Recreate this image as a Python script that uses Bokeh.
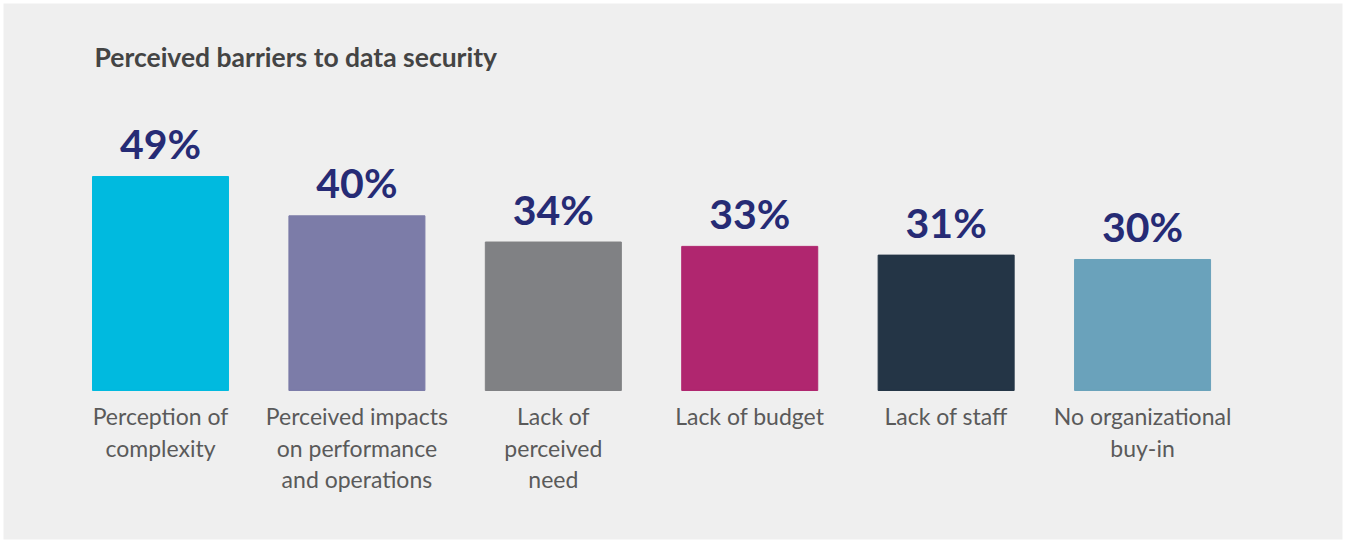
from bokeh.plotting import figure
from bokeh.models import ColumnDataSource, Range1d, Label
from bokeh.core.properties import value
from bokeh.embed import file_html
from bokeh.resources import INLINE

title = "Perceived barriers to data security"
categories = [
    "Perception of\ncomplexity",
    "Perceived impacts\non performance\nand operations",
    "Lack of\nperceived\nneed",
    "Lack of budget",
    "Lack of staff",
    "No organizational\nbuy-in",
]
values = [49, 40, 34, 33, 31, 30]
colors = ["#00badf", "#7c7ca8", "#808184", "#b0266f", "#243546", "#6aa2bb"]

xs = list(range(len(categories)))
src = ColumnDataSource(dict(
    x=xs, top=values, color=colors, cat=categories,
    lbl=[f"{v}%" for v in values],
))

p = figure(width=1345, height=542, output_backend="svg", toolbar_location=None,
           x_range=Range1d(-0.7994, 6.018), y_range=Range1d(-34.12, 88.62),
           min_border_left=3, min_border_right=3, min_border_top=3, min_border_bottom=3,
           background_fill_color="#efefef", border_fill_color="white")
p.axis.visible = False
p.grid.visible = False
p.outline_line_color = None

p.vbar(x="x", top="top", bottom=0, width=0.6925, color="color", source=src)

p.text(x="x", y="top", text="lbl", source=src, text_align="center",
       text_baseline="alphabetic", y_offset=-33,
       text_font=value("Lato"), text_font_style="bold", text_font_size="41px",
       text_color="#262b75")

p.text(x="x", y=0, text="cat", source=src, text_align="center",
       text_baseline="top", y_offset=12, text_line_height=1.12,
       text_font=value("Lato"), text_font_size="23px", text_color="#5a5a5a")

p.add_layout(Label(x=-0.336, y=76.3, text=title, text_font="Lato",
                   text_font_style="bold", text_font_size="26.5px",
                   text_color="#444444", text_baseline="alphabetic"))

open("out.html", "w").write(file_html(p, INLINE))
